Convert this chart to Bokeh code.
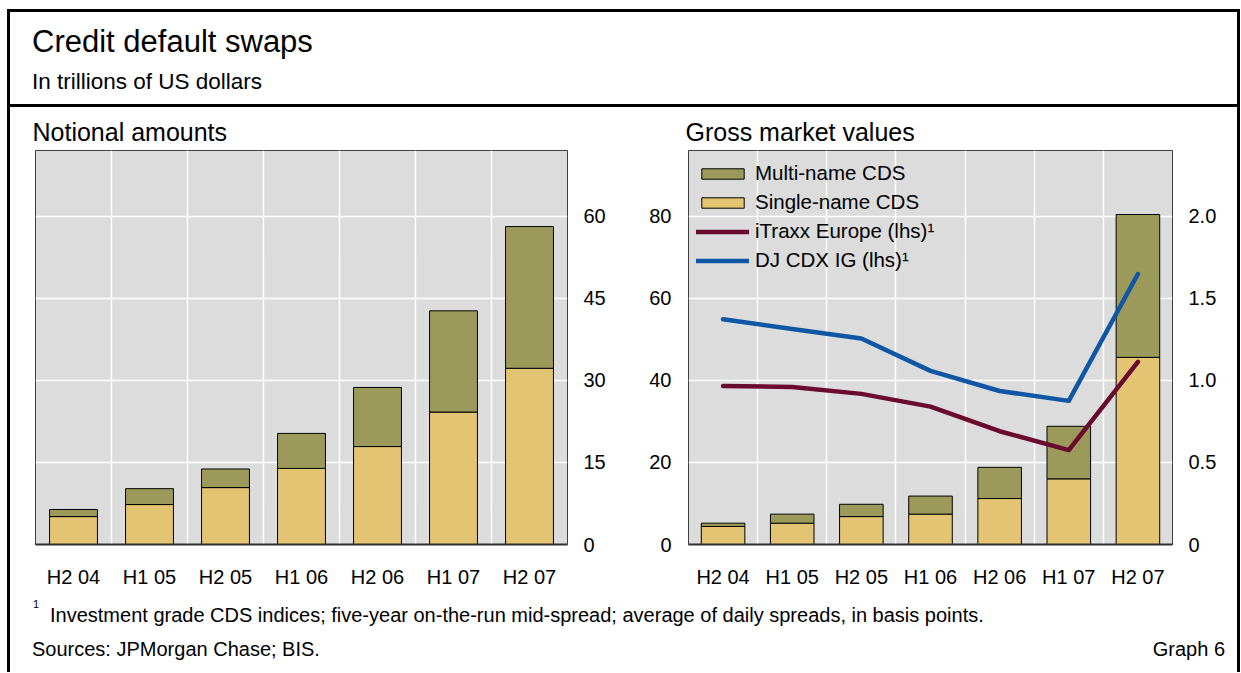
from bokeh.plotting import figure
from bokeh.models import (Div, LinearAxis, Range1d, FixedTicker, ColumnDataSource,
                          Legend, LegendItem)
from bokeh.layouts import column, row
from bokeh.embed import file_html
from bokeh.resources import INLINE

FONT = "Liberation Sans"

# ---------------- data ----------------
categories = ["H2 04", "H1 05", "H2 05", "H1 06", "H2 06", "H1 07", "H2 07"]
notional_single = [5.1, 7.3, 10.4, 13.9, 17.9, 24.2, 32.2]
notional_multi = [1.3, 2.9, 3.4, 6.4, 10.8, 18.5, 25.9]
gmv_single = [0.11, 0.13, 0.17, 0.185, 0.28, 0.40, 1.14]
gmv_multi = [0.02, 0.055, 0.075, 0.11, 0.19, 0.32, 0.87]
itraxx = [38.6, 38.4, 36.7, 33.6, 27.6, 23.0, 44.5]
cdx = [54.9, 52.5, 50.2, 42.3, 37.4, 35.0, 65.9]

notional_ticks = [0, 15, 30, 45, 60]
spread_ticks = [0, 20, 40, 60, 80]
gmv_ticks = [0, 0.5, 1.0, 1.5, 2.0]
gmv_tick_labels = ["0", "0.5", "1.0", "1.5", "2.0"]

title_text = "Credit default swaps"
subtitle_text = "In trillions of US dollars"
left_title = "Notional amounts"
right_title = "Gross market values"
legend_labels = ["Multi-name CDS", "Single-name CDS", "iTraxx Europe (lhs)\u00b9", "DJ CDX IG (lhs)\u00b9"]
footnote_text = "Investment grade CDS indices; five-year on-the-run mid-spread; average of daily spreads, in basis points."
sources_text = "Sources: JPMorgan Chase; BIS."
graph_text = "Graph 6"

MULTI = "#9C9A5A"
SINGLE = "#E3C473"
ITRAXX = "#6B0A2F"
CDX = "#0F56A5"
BG = "#DCDCDC"

n = len(categories)
xs = [i + 0.5 for i in range(n)]


def style(p):
    p.background_fill_color = BG
    p.border_fill_color = "white"
    p.outline_line_color = "#404040"
    p.outline_line_width = 1
    p.grid.grid_line_color = "white"
    p.grid.grid_line_width = 1.5
    p.xgrid.ticker = FixedTicker(ticks=list(range(1, n)))
    p.xaxis.ticker = FixedTicker(ticks=xs)
    p.xaxis.major_label_overrides = {x: c for x, c in zip(xs, categories)}
    for ax in p.axis:
        ax.major_tick_line_color = None
        ax.minor_tick_line_color = None
        ax.major_tick_in = 0
        ax.major_tick_out = 0
        ax.major_label_text_font = FONT
        ax.major_label_text_font_size = "20px"
        ax.major_label_text_color = "black"
        ax.axis_line_color = None
        ax.major_label_standoff = 16
    p.xaxis.axis_line_color = "#303030"
    p.xaxis.axis_line_width = 2
    p.xaxis.major_label_standoff = 21
    p.title.text_font = FONT
    p.title.text_font_size = "25px"
    p.title.text_font_style = "normal"
    p.title.text_color = "black"
    p.title.align = "left"
    p.title.offset = -3
    p.title.standoff = 9


# ---------------- left panel ----------------
src1 = ColumnDataSource(dict(x=xs, single=notional_single, multi=notional_multi))
p1 = figure(frame_width=532, frame_height=394, x_range=Range1d(0, n), y_range=Range1d(0, 72),
            y_axis_location="right", toolbar_location=None, output_backend="svg",
            min_border_left=25, min_border_right=73, min_border_top=43, min_border_bottom=53,
            title=left_title, margin=0)
p1.vbar_stack(["single", "multi"], x="x", width=0.63, color=[SINGLE, MULTI],
              line_color="black", line_width=1, source=src1)
p1.yaxis.ticker = FixedTicker(ticks=notional_ticks)
style(p1)

# ---------------- right panel ----------------
src2 = ColumnDataSource(dict(x=xs, single=gmv_single, multi=gmv_multi, itraxx=itraxx, cdx=cdx))
p2 = figure(frame_width=484, frame_height=394, x_range=Range1d(0, n), y_range=Range1d(0, 96),
            toolbar_location=None, output_backend="svg",
            min_border_left=48, min_border_right=65, min_border_top=43, min_border_bottom=53,
            title=right_title, margin=0)
p2.extra_y_ranges = {"bars": Range1d(0, 2.4)}
p2.add_layout(LinearAxis(y_range_name="bars", ticker=FixedTicker(ticks=gmv_ticks),
                         major_label_overrides=dict(zip(gmv_ticks, gmv_tick_labels))), "right")
p2.yaxis[0].ticker = FixedTicker(ticks=spread_ticks)
bars = p2.vbar_stack(["single", "multi"], x="x", width=0.63, color=[SINGLE, MULTI],
                     line_color="black", line_width=1, source=src2, y_range_name="bars")
l1 = p2.line("x", "itraxx", source=src2, line_width=4.5, color=ITRAXX,
             line_cap="round", line_join="round")
l2 = p2.line("x", "cdx", source=src2, line_width=4.5, color=CDX,
             line_cap="round", line_join="round")
style(p2)
p2.yaxis[0].major_label_standoff = 17

legend = Legend(items=[LegendItem(label=legend_labels[0], renderers=[bars[1]]),
                       LegendItem(label=legend_labels[1], renderers=[bars[0]]),
                       LegendItem(label=legend_labels[2], renderers=[l1]),
                       LegendItem(label=legend_labels[3], renderers=[l2])],
                location=(8, 272), margin=0, padding=0, spacing=5,
                glyph_width=53, glyph_height=13, label_height=24, label_standoff=6,
                label_text_font=FONT, label_text_font_size="20.5px", label_text_color="black",
                border_line_color=None, background_fill_alpha=0)
p2.add_layout(legend)

# ---------------- header / footer ----------------
W = 1227
header_html = f"""<div style="position:relative;width:{W}px;height:95px;font-family:'{FONT}',Arial,sans-serif;color:black;">
<div style="position:absolute;left:22px;top:13.8px;font-size:31px;line-height:31px;white-space:nowrap;">{title_text}</div>
<div style="position:absolute;left:22px;top:59px;font-size:22.5px;line-height:22.5px;white-space:nowrap;">{subtitle_text}</div>
<div style="position:absolute;left:0px;top:92px;width:{W}px;height:3px;background:black;"></div>
</div>"""
header = Div(text=header_html, width=W, height=95, margin=0)

footer_html = f"""<div style="position:relative;width:{W}px;height:75px;font-family:'{FONT}',Arial,sans-serif;color:black;">
<div style="position:absolute;left:23px;top:2px;font-size:11px;line-height:11px;">1</div>
<div style="position:absolute;left:40px;top:8px;font-size:20px;line-height:20px;white-space:nowrap;">{footnote_text}</div>
<div style="position:absolute;left:22px;top:42px;font-size:20px;line-height:20px;white-space:nowrap;">{sources_text}</div>
<div style="position:absolute;right:12px;top:42px;font-size:20px;line-height:20px;white-space:nowrap;">{graph_text}</div>
</div>"""
footer = Div(text=footer_html, width=W, height=75, margin=0)

layout = column(header, row(p1, p2, margin=0), footer, margin=(9, 0, 0, 7),
                styles={"border-top": "3px solid black", "border-left": "3px solid black",
                        "border-right": "3px solid black"})

open("out.html", "w").write(file_html(layout, INLINE))
